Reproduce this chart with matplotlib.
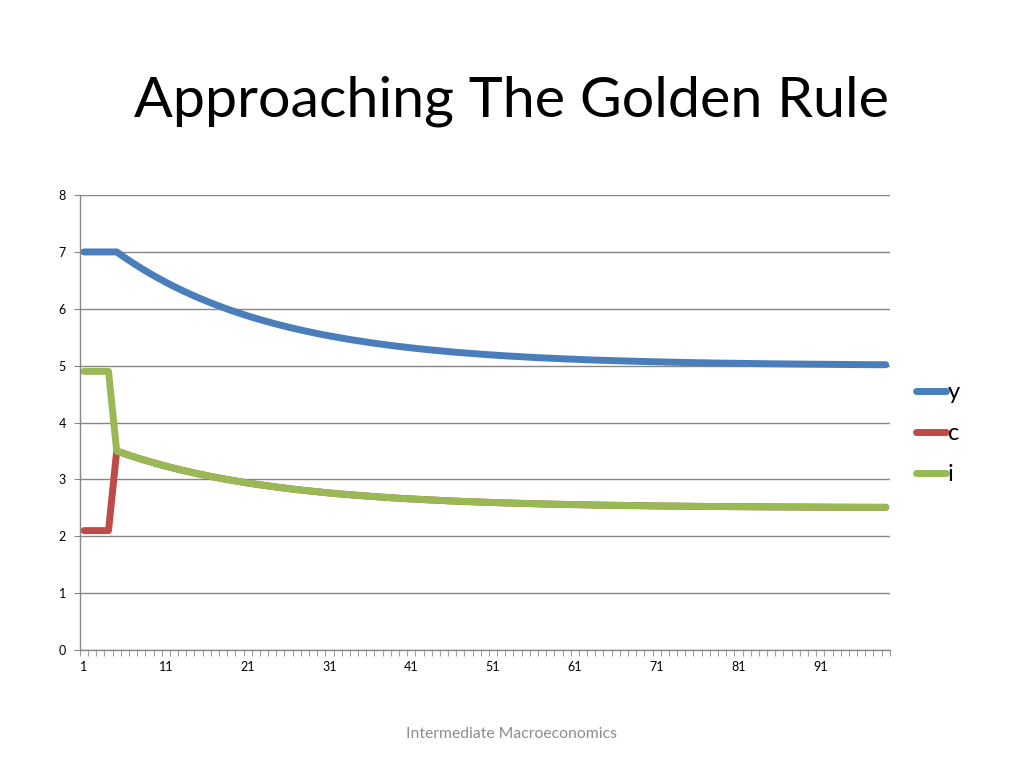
import matplotlib
matplotlib.use("Agg")
from matplotlib import pyplot as plt
import numpy as np

PLOT_DPI = 100

periods = list(range(1, 100))

y_vals = [
    7.000, 7.000, 7.000, 7.000, 7.000, 6.899, 6.804, 6.713, 6.627, 6.545,
    6.467, 6.393, 6.323, 6.257, 6.194, 6.134, 6.077, 6.023, 5.971, 5.923,
    5.876, 5.832, 5.791, 5.751, 5.713, 5.677, 5.644, 5.611, 5.581, 5.551,
    5.524, 5.498, 5.473, 5.449, 5.427, 5.405, 5.385, 5.366, 5.347, 5.330,
    5.313, 5.298, 5.283, 5.269, 5.255, 5.242, 5.230, 5.219, 5.208, 5.197,
    5.188, 5.178, 5.169, 5.161, 5.153, 5.145, 5.138, 5.131, 5.125, 5.118,
    5.113, 5.107, 5.101, 5.096, 5.092, 5.087, 5.083, 5.079, 5.075, 5.071,
    5.068, 5.064, 5.061, 5.058, 5.055, 5.052, 5.050, 5.047, 5.045, 5.043,
    5.041, 5.039, 5.037, 5.035, 5.033, 5.032, 5.030, 5.029, 5.027, 5.026,
    5.025, 5.024, 5.022, 5.021, 5.020, 5.019, 5.018, 5.017, 5.017,
]

c_vals = [
    2.100, 2.100, 2.100, 2.100, 3.500, 3.450, 3.402, 3.357, 3.314, 3.273,
    3.234, 3.197, 3.162, 3.129, 3.097, 3.067, 3.039, 3.012, 2.986, 2.962,
    2.938, 2.916, 2.896, 2.876, 2.857, 2.839, 2.822, 2.806, 2.791, 2.776,
    2.762, 2.749, 2.737, 2.725, 2.714, 2.703, 2.693, 2.683, 2.674, 2.665,
    2.657, 2.649, 2.642, 2.635, 2.628, 2.621, 2.615, 2.610, 2.604, 2.599,
    2.594, 2.589, 2.585, 2.581, 2.577, 2.573, 2.569, 2.566, 2.563, 2.559,
    2.557, 2.554, 2.551, 2.548, 2.546, 2.544, 2.542, 2.540, 2.538, 2.536,
    2.534, 2.532, 2.531, 2.529, 2.528, 2.526, 2.525, 2.524, 2.523, 2.522,
    2.521, 2.520, 2.519, 2.518, 2.517, 2.516, 2.515, 2.515, 2.514, 2.513,
    2.513, 2.512, 2.511, 2.511, 2.510, 2.510, 2.509, 2.509, 2.509,
]

i_vals = [
    4.900, 4.900, 4.900, 4.900, 3.500, 3.450, 3.402, 3.357, 3.314, 3.273,
    3.234, 3.197, 3.162, 3.129, 3.097, 3.067, 3.039, 3.012, 2.986, 2.962,
    2.938, 2.916, 2.896, 2.876, 2.857, 2.839, 2.822, 2.806, 2.791, 2.776,
    2.762, 2.749, 2.737, 2.725, 2.714, 2.703, 2.693, 2.683, 2.674, 2.665,
    2.657, 2.649, 2.642, 2.635, 2.628, 2.621, 2.615, 2.610, 2.604, 2.599,
    2.594, 2.589, 2.585, 2.581, 2.577, 2.573, 2.569, 2.566, 2.563, 2.559,
    2.557, 2.554, 2.551, 2.548, 2.546, 2.544, 2.542, 2.540, 2.538, 2.536,
    2.534, 2.532, 2.531, 2.529, 2.528, 2.526, 2.525, 2.524, 2.523, 2.522,
    2.521, 2.520, 2.519, 2.518, 2.517, 2.516, 2.515, 2.515, 2.514, 2.513,
    2.513, 2.512, 2.511, 2.511, 2.510, 2.510, 2.509, 2.509, 2.509,
]

series = [("y", y_vals, "#4A7EBB"), ("c", c_vals, "#BE4B48"), ("i", i_vals, "#98B954")]
x_labels = [str(p) for p in range(1, 100, 10)]
y_ticks = list(range(0, 9))

GRID = "#878787"

plt.rcParams["font.family"] = ["Lato", "DejaVu Sans"]

fig = plt.figure(figsize = (10.24, 7.68), dpi = PLOT_DPI)
ax = fig.add_axes([0.078, 0.1536, 0.791, 0.5924])

for name, vals, col in series:
    ax.plot(periods, vals, color = col, linewidth = 5, label = name,
            solid_capstyle = "round", solid_joinstyle = "round")

ax.set_xlim(0.5, len(periods) + 0.5)
ax.set_ylim(0, 8)

ax.set_yticks(y_ticks)
ax.set_yticklabels([str(t) for t in y_ticks], fontsize = 9)
ax.yaxis.grid(True, color = GRID, linewidth = 1)
ax.set_axisbelow(True)

ax.set_xticks([int(s) for s in x_labels])
ax.set_xticklabels(x_labels, fontsize = 9)
ax.set_xticks(np.arange(0.5, len(periods) + 1), minor = True)
ax.tick_params(axis = "x", which = "major", length = 0, pad = 8)
ax.tick_params(axis = "x", which = "minor", length = 4, color = GRID, direction = "out")
ax.tick_params(axis = "y", which = "major", length = 4, color = GRID, direction = "out", pad = 6)

for side in ["top", "right"]:
    ax.spines[side].set_visible(False)
for side in ["left", "bottom"]:
    ax.spines[side].set_color(GRID)
    ax.spines[side].set_linewidth(1)

leg = fig.legend(loc = "center left", bbox_to_anchor = (0.8828, 0.435), frameon = False,
                 borderpad = 0, fontsize = 17, handlelength = 1.3, handletextpad = 0.05,
                 labelspacing = 0.85)

fig.text(0.5, 0.848, "Approaching The Golden Rule", ha = "center", va = "baseline", fontsize = 41.3)
fig.text(0.5, 0.039, "Intermediate Macroeconomics", ha = "center", va = "baseline",
         fontsize = 11.3, color = "#8C8C8C")

fig.savefig("out.png", dpi = PLOT_DPI)
